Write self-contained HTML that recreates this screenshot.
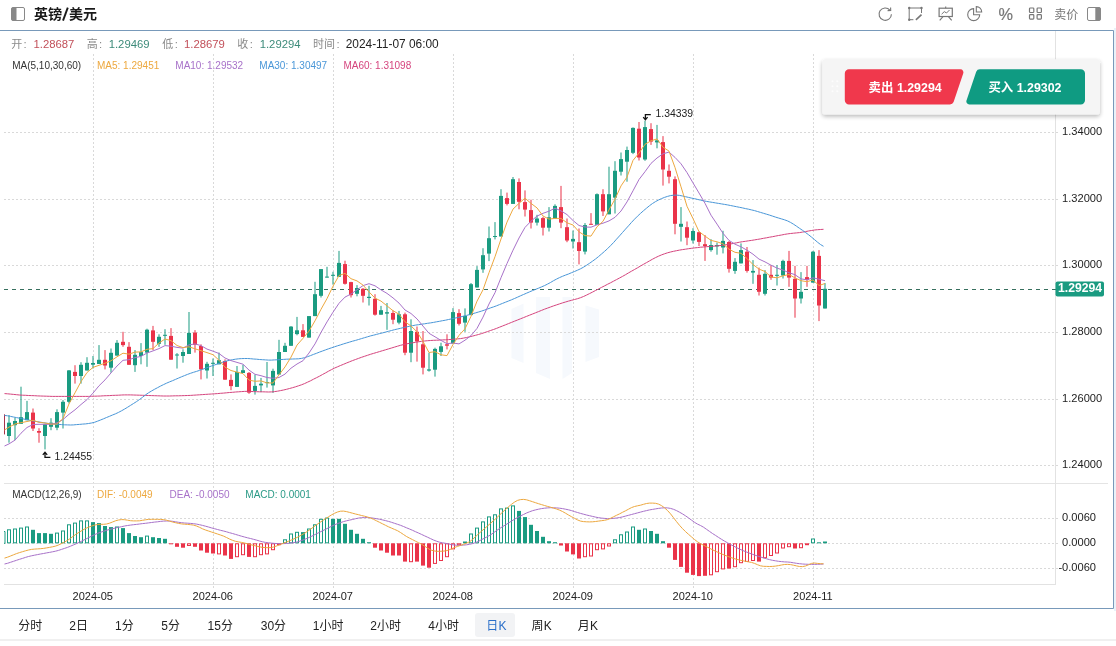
<!DOCTYPE html>
<html><head><meta charset="utf-8"><title>GBP/USD</title>
<style>html,body{margin:0;padding:0;background:#fff;overflow:hidden}body{width:1116px;height:646px;font-family:"Liberation Sans","Noto Sans CJK SC",sans-serif}svg{display:block;will-change:transform}</style></head>
<body>
<svg width="1116" height="646" viewBox="0 0 1116 646" font-family="Liberation Sans, Noto Sans CJK SC, sans-serif">
<rect width="1116" height="646" fill="#fff"/>
<rect x="11.5" y="7.5" width="13" height="13" rx="1.5" fill="#fff" stroke="#888" stroke-width="1"/>
<path d="M12.5 7.5h4v13h-4a1 1 0 0 1-1-1v-11a1 1 0 0 1 1-1z" fill="#888"/>
<text x="34" y="19.4" font-size="14" font-weight="bold" fill="#1a1a1a" font-family="Liberation Sans, Noto Sans CJK SC, sans-serif">英镑</text>
<path d="M63 20.6L67.8 7.6" stroke="#1a1a1a" stroke-width="1.9" fill="none"/>
<text x="68.9" y="19.4" font-size="14" font-weight="bold" fill="#1a1a1a" font-family="Liberation Sans, Noto Sans CJK SC, sans-serif">美元</text>
<path d="M889.9 10.1A6.2 6.2 0 1 0 891.4 14.2" fill="none" stroke="#777" stroke-width="1.1"/>
<path d="M890.6 7.4l0.1 3.1-3.1 0.1" fill="none" stroke="#777" stroke-width="1.1"/>
<path d="M921.5 8v5M909.2 8h12.3M909.2 8v11.7M909.2 19.7h4.2" fill="none" stroke="#777" stroke-width="1"/>
<path d="M915.9 19.9l5.6-5.2" fill="none" stroke="#777" stroke-width="1.6"/>
<circle cx="909.2" cy="8" r="1.2" fill="#777"/>
<circle cx="921.5" cy="8" r="1.2" fill="#777"/>
<circle cx="909.2" cy="19.7" r="1.2" fill="#777"/>
<rect x="939.1" y="8.2" width="13.2" height="8.3" fill="none" stroke="#777" stroke-width="1.2"/>
<path d="M945.7 6.5v1.7M943 16.6l-3.3 3.8M948.4 16.6l3.3 3.8" fill="none" stroke="#777" stroke-width="1.1"/>
<path d="M941.6 14.2l2.7-2.6 2.2 1.4 3-3" fill="none" stroke="#777" stroke-width="1"/>
<path d="M973.6 8.6A6 6 0 1 0 979.7 14.7H973.6z" fill="none" stroke="#777" stroke-width="1.1"/>
<path d="M976.3 6.6A5.4 5.4 0 0 1 981.7 12H976.3z" fill="none" stroke="#777" stroke-width="1.1"/>
<text x="998.4" y="19.7" font-size="16.3" fill="#777" stroke="#777" stroke-width="0.2">%</text>
<rect x="1029.5" y="8.0" width="4.3" height="4.5" rx="0.8" fill="none" stroke="#777" stroke-width="1.2"/>
<rect x="1029.5" y="14.6" width="4.3" height="4.5" rx="0.8" fill="none" stroke="#777" stroke-width="1.2"/>
<rect x="1037.1" y="8.0" width="4.3" height="4.5" rx="0.8" fill="none" stroke="#777" stroke-width="1.2"/>
<rect x="1037.1" y="14.6" width="4.3" height="4.5" rx="0.8" fill="none" stroke="#777" stroke-width="1.2"/>
<text x="1054.3" y="19" font-size="12" fill="#777" font-family="Liberation Sans, Noto Sans CJK SC, sans-serif">卖价</text>
<rect x="1087.5" y="7.5" width="13" height="13" rx="1.5" fill="#fff" stroke="#888" stroke-width="1"/>
<path d="M1095.3 7.5h4.2a1 1 0 0 1 1 1v11a1 1 0 0 1-1 1h-4.2z" fill="#888"/>
<rect x="1114" y="28" width="2" height="583" fill="#e9f2f9"/>
<path d="M0 30.5H1113.5V608.5H0" fill="none" stroke="#7899ba" stroke-width="1"/>
<rect x="0" y="639" width="1116" height="2" fill="#f0f0f0"/>
<path d="M511.5 309l12-5.5V363l-12-5z M536 297l14 0V379l-14-6z M562.5 297l9.5 0V373l-9.5 6z M585.5 305.5l13.5 4V357l-13.5 5z" fill="#f6f9fd"/>
<path d="M4 132.5 H1059" stroke="#d9d9d9" stroke-width="1" stroke-dasharray="2 2" fill="none"/>
<path d="M4 199.5 H1059" stroke="#d9d9d9" stroke-width="1" stroke-dasharray="2 2" fill="none"/>
<path d="M4 265.5 H1059" stroke="#d9d9d9" stroke-width="1" stroke-dasharray="2 2" fill="none"/>
<path d="M4 332.5 H1059" stroke="#d9d9d9" stroke-width="1" stroke-dasharray="2 2" fill="none"/>
<path d="M4 399.5 H1059" stroke="#d9d9d9" stroke-width="1" stroke-dasharray="2 2" fill="none"/>
<path d="M4 465.5 H1059" stroke="#d9d9d9" stroke-width="1" stroke-dasharray="2 2" fill="none"/>
<path d="M4 518.5 H1059" stroke="#d9d9d9" stroke-width="1" stroke-dasharray="2 2" fill="none"/>
<path d="M4 543.5 H1059" stroke="#d9d9d9" stroke-width="1" stroke-dasharray="2 2" fill="none"/>
<path d="M4 568.5 H1059" stroke="#d9d9d9" stroke-width="1" stroke-dasharray="2 2" fill="none"/>
<path d="M93.5 54V588" stroke="#d9d9d9" stroke-width="1" stroke-dasharray="2 2" fill="none"/>
<path d="M213.5 54V588" stroke="#d9d9d9" stroke-width="1" stroke-dasharray="2 2" fill="none"/>
<path d="M333.5 54V588" stroke="#d9d9d9" stroke-width="1" stroke-dasharray="2 2" fill="none"/>
<path d="M453.5 54V588" stroke="#d9d9d9" stroke-width="1" stroke-dasharray="2 2" fill="none"/>
<path d="M573.5 54V588" stroke="#d9d9d9" stroke-width="1" stroke-dasharray="2 2" fill="none"/>
<path d="M693.5 54V588" stroke="#d9d9d9" stroke-width="1" stroke-dasharray="2 2" fill="none"/>
<path d="M813.5 54V588" stroke="#d9d9d9" stroke-width="1" stroke-dasharray="2 2" fill="none"/>
<path d="M4 483.5H1108" stroke="#e4e4e4" stroke-width="1"/>
<path d="M4 584.5H1056" stroke="#e2e2e2" stroke-width="1"/>
<path d="M1055.5 31V584.5" stroke="#e2e2e2" stroke-width="1"/>
<path d="M4 289.5H1056" stroke="#37705f" stroke-width="1" stroke-dasharray="4 4" fill="none"/>
<rect x="4" y="414.3" width="1" height="20.1" fill="#a8324a"/>
<rect x="8.5" y="415.1" width="1" height="27.6" fill="#1a9b81"/>
<rect x="7" y="422.7" width="4" height="13.3" fill="#1a9b81"/>
<rect x="14.5" y="417.7" width="1" height="22.5" fill="#1a9b81"/>
<rect x="13" y="421" width="4" height="4.2" fill="#1a9b81"/>
<rect x="20.5" y="386.7" width="1" height="37.1" fill="#1a9b81"/>
<rect x="19" y="417.2" width="4" height="6.6" fill="#1a9b81"/>
<rect x="26.5" y="400.9" width="1" height="19.3" fill="#1a9b81"/>
<rect x="25" y="412.1" width="4" height="8.1" fill="#1a9b81"/>
<rect x="32.5" y="408.5" width="1" height="22.5" fill="#ea3349"/>
<rect x="31" y="412.6" width="4" height="15.9" fill="#ea3349"/>
<rect x="38.5" y="428.2" width="1" height="14.5" fill="#ea3349"/>
<rect x="37" y="431" width="4" height="1.7" fill="#ea3349"/>
<rect x="44.5" y="424.3" width="1" height="25.1" fill="#1a9b81"/>
<rect x="43" y="424.3" width="4" height="11.7" fill="#1a9b81"/>
<rect x="50.5" y="418.2" width="1" height="12" fill="#1a9b81"/>
<rect x="49" y="422.7" width="4" height="4.1" fill="#1a9b81"/>
<rect x="56.5" y="409.3" width="1" height="20.9" fill="#1a9b81"/>
<rect x="55" y="412.1" width="4" height="15.6" fill="#1a9b81"/>
<rect x="62.5" y="400.1" width="1" height="28.4" fill="#1a9b81"/>
<rect x="61" y="401.8" width="4" height="10.8" fill="#1a9b81"/>
<rect x="68.5" y="370" width="1" height="33.4" fill="#1a9b81"/>
<rect x="67" y="370.4" width="4" height="31.4" fill="#1a9b81"/>
<rect x="74.5" y="365.2" width="1" height="18.4" fill="#ea3349"/>
<rect x="73" y="371.9" width="4" height="4.1" fill="#ea3349"/>
<rect x="80.5" y="362.2" width="1" height="21.4" fill="#1a9b81"/>
<rect x="79" y="364.8" width="4" height="11.2" fill="#1a9b81"/>
<rect x="86.5" y="357.2" width="1" height="13.3" fill="#1a9b81"/>
<rect x="85" y="362.8" width="4" height="7.7" fill="#1a9b81"/>
<rect x="92.5" y="356" width="1" height="12.5" fill="#1a9b81"/>
<rect x="91" y="363" width="4" height="1.7" fill="#1a9b81"/>
<rect x="98.5" y="345.1" width="1" height="18.9" fill="#1a9b81"/>
<rect x="97" y="359.8" width="4" height="4.2" fill="#1a9b81"/>
<rect x="104.5" y="350.1" width="1" height="19.3" fill="#ea3349"/>
<rect x="103" y="359.8" width="4" height="5.7" fill="#ea3349"/>
<rect x="110.5" y="348.5" width="1" height="24.2" fill="#1a9b81"/>
<rect x="109" y="352.8" width="4" height="14.9" fill="#1a9b81"/>
<rect x="116.5" y="340.1" width="1" height="15.5" fill="#1a9b81"/>
<rect x="115" y="342.8" width="4" height="12.8" fill="#1a9b81"/>
<rect x="122.5" y="331.8" width="1" height="15" fill="#ea3349"/>
<rect x="121" y="341.8" width="4" height="3.3" fill="#ea3349"/>
<rect x="128.5" y="342.1" width="1" height="22.7" fill="#ea3349"/>
<rect x="127" y="346.8" width="4" height="18" fill="#ea3349"/>
<rect x="134.5" y="350.1" width="1" height="21.8" fill="#1a9b81"/>
<rect x="133" y="354.8" width="4" height="10.4" fill="#1a9b81"/>
<rect x="140.5" y="343.1" width="1" height="21.2" fill="#1a9b81"/>
<rect x="139" y="352.1" width="4" height="3.9" fill="#1a9b81"/>
<rect x="146.5" y="328.7" width="1" height="38.1" fill="#1a9b81"/>
<rect x="145" y="329.7" width="4" height="22.9" fill="#1a9b81"/>
<rect x="152.5" y="325.9" width="1" height="24.2" fill="#ea3349"/>
<rect x="151" y="330.4" width="4" height="11.4" fill="#ea3349"/>
<rect x="158.5" y="334.3" width="1" height="12.5" fill="#1a9b81"/>
<rect x="157" y="336.8" width="4" height="7" fill="#1a9b81"/>
<rect x="164.5" y="329.2" width="1" height="15.6" fill="#1a9b81"/>
<rect x="163" y="334.8" width="4" height="1" fill="#1a9b81"/>
<rect x="170.5" y="328.1" width="1" height="31.6" fill="#ea3349"/>
<rect x="169" y="335.9" width="4" height="23.8" fill="#ea3349"/>
<rect x="176.5" y="353.1" width="1" height="15.4" fill="#1a9b81"/>
<rect x="175" y="354.5" width="4" height="1" fill="#1a9b81"/>
<rect x="182.5" y="349.3" width="1" height="13.4" fill="#1a9b81"/>
<rect x="181" y="352" width="4" height="4" fill="#1a9b81"/>
<rect x="188.5" y="312" width="1" height="42" fill="#1a9b81"/>
<rect x="187" y="332.9" width="4" height="21.1" fill="#1a9b81"/>
<rect x="194.5" y="330.1" width="1" height="22.5" fill="#ea3349"/>
<rect x="193" y="332.6" width="4" height="12.2" fill="#ea3349"/>
<rect x="200.5" y="344.3" width="1" height="35.1" fill="#ea3349"/>
<rect x="199" y="346" width="4" height="23.4" fill="#ea3349"/>
<rect x="206.5" y="361.8" width="1" height="16.7" fill="#1a9b81"/>
<rect x="205" y="363.8" width="4" height="6.7" fill="#1a9b81"/>
<rect x="212.5" y="358.5" width="1" height="17.5" fill="#1a9b81"/>
<rect x="211" y="362.8" width="4" height="1" fill="#1a9b81"/>
<rect x="218.5" y="352.6" width="1" height="11.7" fill="#1a9b81"/>
<rect x="217" y="360.2" width="4" height="4.1" fill="#1a9b81"/>
<rect x="224.5" y="359.3" width="1" height="20.4" fill="#ea3349"/>
<rect x="223" y="361" width="4" height="18.7" fill="#ea3349"/>
<rect x="230.5" y="374.4" width="1" height="15.8" fill="#ea3349"/>
<rect x="229" y="379.9" width="4" height="6.2" fill="#ea3349"/>
<rect x="236.5" y="366" width="1" height="20.9" fill="#1a9b81"/>
<rect x="235" y="371.9" width="4" height="15" fill="#1a9b81"/>
<rect x="242.5" y="364.8" width="1" height="8.2" fill="#1a9b81"/>
<rect x="241" y="370.2" width="4" height="2.8" fill="#1a9b81"/>
<rect x="248.5" y="372" width="1" height="21.8" fill="#ea3349"/>
<rect x="247" y="372.9" width="4" height="19.7" fill="#ea3349"/>
<rect x="254.5" y="374.5" width="1" height="20.1" fill="#1a9b81"/>
<rect x="253" y="385.9" width="4" height="5" fill="#1a9b81"/>
<rect x="260.5" y="377.9" width="1" height="14.2" fill="#1a9b81"/>
<rect x="259" y="383.7" width="4" height="1.7" fill="#1a9b81"/>
<rect x="266.5" y="362" width="1" height="25.6" fill="#1a9b81"/>
<rect x="265" y="382.1" width="4" height="1" fill="#1a9b81"/>
<rect x="272.5" y="368.7" width="1" height="24.2" fill="#1a9b81"/>
<rect x="271" y="370.9" width="4" height="14.5" fill="#1a9b81"/>
<rect x="278.5" y="339.8" width="1" height="34.7" fill="#1a9b81"/>
<rect x="277" y="352" width="4" height="22.5" fill="#1a9b81"/>
<rect x="284.5" y="342.8" width="1" height="9.2" fill="#1a9b81"/>
<rect x="283" y="345.8" width="4" height="6.2" fill="#1a9b81"/>
<rect x="290.5" y="326.1" width="1" height="19.7" fill="#1a9b81"/>
<rect x="289" y="326.6" width="4" height="19.2" fill="#1a9b81"/>
<rect x="296.5" y="316.9" width="1" height="18.4" fill="#1a9b81"/>
<rect x="295" y="330.3" width="4" height="3.8" fill="#1a9b81"/>
<rect x="302.5" y="324.1" width="1" height="12.8" fill="#ea3349"/>
<rect x="301" y="330.3" width="4" height="6.6" fill="#ea3349"/>
<rect x="308.5" y="316.1" width="1" height="21.5" fill="#1a9b81"/>
<rect x="307" y="316.1" width="4" height="21.5" fill="#1a9b81"/>
<rect x="314.5" y="281.8" width="1" height="34.3" fill="#1a9b81"/>
<rect x="313" y="294.2" width="4" height="21.9" fill="#1a9b81"/>
<rect x="320.5" y="269.1" width="1" height="28.4" fill="#1a9b81"/>
<rect x="319" y="269.1" width="4" height="26.7" fill="#1a9b81"/>
<rect x="326.5" y="266.8" width="1" height="10.8" fill="#1a9b81"/>
<rect x="325" y="276.6" width="4" height="1" fill="#1a9b81"/>
<rect x="332.5" y="271.8" width="1" height="12.8" fill="#1a9b81"/>
<rect x="331" y="274.8" width="4" height="1" fill="#1a9b81"/>
<rect x="338.5" y="250.9" width="1" height="25.9" fill="#1a9b81"/>
<rect x="337" y="262.9" width="4" height="13.9" fill="#1a9b81"/>
<rect x="344.5" y="260.7" width="1" height="23.9" fill="#ea3349"/>
<rect x="343" y="264.1" width="4" height="19.7" fill="#ea3349"/>
<rect x="350.5" y="281.8" width="1" height="15.7" fill="#ea3349"/>
<rect x="349" y="282.1" width="4" height="13.1" fill="#ea3349"/>
<rect x="356.5" y="285.1" width="1" height="11.2" fill="#1a9b81"/>
<rect x="355" y="288" width="4" height="5.8" fill="#1a9b81"/>
<rect x="362.5" y="288" width="1" height="14.5" fill="#ea3349"/>
<rect x="361" y="288.8" width="4" height="7" fill="#ea3349"/>
<rect x="368.5" y="285.8" width="1" height="19.7" fill="#1a9b81"/>
<rect x="367" y="296.8" width="4" height="1.2" fill="#1a9b81"/>
<rect x="374.5" y="294.2" width="1" height="21.4" fill="#ea3349"/>
<rect x="373" y="298.8" width="4" height="15.9" fill="#ea3349"/>
<rect x="380.5" y="305.9" width="1" height="8.8" fill="#1a9b81"/>
<rect x="379" y="310.2" width="4" height="4.5" fill="#1a9b81"/>
<rect x="386.5" y="303" width="1" height="26.8" fill="#1a9b81"/>
<rect x="385" y="312.2" width="4" height="1.4" fill="#1a9b81"/>
<rect x="392.5" y="310.5" width="1" height="13.7" fill="#ea3349"/>
<rect x="391" y="313" width="4" height="6.7" fill="#ea3349"/>
<rect x="398.5" y="310.9" width="1" height="13.4" fill="#1a9b81"/>
<rect x="397" y="314.3" width="4" height="8.3" fill="#1a9b81"/>
<rect x="404.5" y="312.6" width="1" height="42.6" fill="#ea3349"/>
<rect x="403" y="314.3" width="4" height="38.4" fill="#ea3349"/>
<rect x="410.5" y="319.3" width="1" height="42.9" fill="#1a9b81"/>
<rect x="409" y="331" width="4" height="21.7" fill="#1a9b81"/>
<rect x="416.5" y="326.5" width="1" height="35.1" fill="#ea3349"/>
<rect x="415" y="331.8" width="4" height="9.7" fill="#ea3349"/>
<rect x="422.5" y="331" width="1" height="43.4" fill="#ea3349"/>
<rect x="421" y="344.3" width="4" height="23.4" fill="#ea3349"/>
<rect x="428.5" y="352.7" width="1" height="18.9" fill="#1a9b81"/>
<rect x="427" y="369.4" width="4" height="1.2" fill="#1a9b81"/>
<rect x="434.5" y="347.7" width="1" height="28.9" fill="#1a9b81"/>
<rect x="433" y="348.9" width="4" height="20.8" fill="#1a9b81"/>
<rect x="440.5" y="342.7" width="1" height="13.3" fill="#1a9b81"/>
<rect x="439" y="346.3" width="4" height="5.6" fill="#1a9b81"/>
<rect x="446.5" y="334.3" width="1" height="15.1" fill="#ea3349"/>
<rect x="445" y="344.3" width="4" height="1.4" fill="#ea3349"/>
<rect x="452.5" y="308.1" width="1" height="35.4" fill="#1a9b81"/>
<rect x="451" y="312.1" width="4" height="31.4" fill="#1a9b81"/>
<rect x="458.5" y="309.2" width="1" height="16.3" fill="#ea3349"/>
<rect x="457" y="313.1" width="4" height="10.7" fill="#ea3349"/>
<rect x="464.5" y="308.4" width="1" height="23.4" fill="#1a9b81"/>
<rect x="463" y="315.9" width="4" height="6.7" fill="#1a9b81"/>
<rect x="470.5" y="283" width="1" height="32.1" fill="#1a9b81"/>
<rect x="469" y="284.2" width="4" height="30.9" fill="#1a9b81"/>
<rect x="476.5" y="266.1" width="1" height="21.4" fill="#1a9b81"/>
<rect x="475" y="269.9" width="4" height="17.6" fill="#1a9b81"/>
<rect x="482.5" y="248.2" width="1" height="24.6" fill="#1a9b81"/>
<rect x="481" y="255.2" width="4" height="14.2" fill="#1a9b81"/>
<rect x="488.5" y="226.5" width="1" height="34.6" fill="#1a9b81"/>
<rect x="487" y="238.2" width="4" height="15.4" fill="#1a9b81"/>
<rect x="494.5" y="222.1" width="1" height="17.3" fill="#1a9b81"/>
<rect x="493" y="236" width="4" height="1" fill="#1a9b81"/>
<rect x="500.5" y="189.2" width="1" height="47.3" fill="#1a9b81"/>
<rect x="499" y="195.9" width="4" height="40.6" fill="#1a9b81"/>
<rect x="506.5" y="192.6" width="1" height="12.8" fill="#ea3349"/>
<rect x="505" y="198.1" width="4" height="5.8" fill="#ea3349"/>
<rect x="512.5" y="177" width="1" height="26.9" fill="#1a9b81"/>
<rect x="511" y="179.2" width="4" height="24.7" fill="#1a9b81"/>
<rect x="518.5" y="178.4" width="1" height="30.9" fill="#ea3349"/>
<rect x="517" y="182" width="4" height="19.8" fill="#ea3349"/>
<rect x="524.5" y="190.4" width="1" height="26.1" fill="#ea3349"/>
<rect x="523" y="202.1" width="4" height="7.5" fill="#ea3349"/>
<rect x="530.5" y="199.7" width="1" height="28.8" fill="#ea3349"/>
<rect x="529" y="210.1" width="4" height="12.5" fill="#ea3349"/>
<rect x="536.5" y="214.8" width="1" height="10.7" fill="#1a9b81"/>
<rect x="535" y="218.5" width="4" height="4.1" fill="#1a9b81"/>
<rect x="542.5" y="216.8" width="1" height="18.7" fill="#ea3349"/>
<rect x="541" y="218.1" width="4" height="9.6" fill="#ea3349"/>
<rect x="548.5" y="207.1" width="1" height="24.4" fill="#1a9b81"/>
<rect x="547" y="217.3" width="4" height="10.4" fill="#1a9b81"/>
<rect x="554.5" y="204.3" width="1" height="14.5" fill="#1a9b81"/>
<rect x="553" y="205.9" width="4" height="12.9" fill="#1a9b81"/>
<rect x="560.5" y="185.9" width="1" height="42.3" fill="#ea3349"/>
<rect x="559" y="207.1" width="4" height="15.5" fill="#ea3349"/>
<rect x="566.5" y="218.5" width="1" height="23.7" fill="#ea3349"/>
<rect x="565" y="227.2" width="4" height="13.3" fill="#ea3349"/>
<rect x="572.5" y="230.5" width="1" height="18" fill="#1a9b81"/>
<rect x="571" y="238.9" width="4" height="2.6" fill="#1a9b81"/>
<rect x="578.5" y="228.5" width="1" height="35.9" fill="#ea3349"/>
<rect x="577" y="242.2" width="4" height="8.8" fill="#ea3349"/>
<rect x="584.5" y="223.1" width="1" height="31.3" fill="#1a9b81"/>
<rect x="583" y="225.1" width="4" height="26.5" fill="#1a9b81"/>
<rect x="590.5" y="213.1" width="1" height="11.7" fill="#ea3349"/>
<rect x="589" y="223.8" width="4" height="1" fill="#ea3349"/>
<rect x="596.5" y="193.4" width="1" height="31.4" fill="#1a9b81"/>
<rect x="595" y="194.2" width="4" height="30.6" fill="#1a9b81"/>
<rect x="602.5" y="189.2" width="1" height="26.8" fill="#ea3349"/>
<rect x="601" y="194.2" width="4" height="17.2" fill="#ea3349"/>
<rect x="608.5" y="166.7" width="1" height="47.6" fill="#1a9b81"/>
<rect x="607" y="194.2" width="4" height="20.1" fill="#1a9b81"/>
<rect x="614.5" y="161.2" width="1" height="52.3" fill="#1a9b81"/>
<rect x="613" y="170.8" width="4" height="26.8" fill="#1a9b81"/>
<rect x="620.5" y="152.5" width="1" height="23" fill="#1a9b81"/>
<rect x="619" y="159.1" width="4" height="12.6" fill="#1a9b81"/>
<rect x="626.5" y="146.6" width="1" height="35.1" fill="#1a9b81"/>
<rect x="625" y="150" width="4" height="11.7" fill="#1a9b81"/>
<rect x="632.5" y="127.4" width="1" height="26.7" fill="#1a9b81"/>
<rect x="631" y="127.9" width="4" height="24.9" fill="#1a9b81"/>
<rect x="638.5" y="122" width="1" height="38.5" fill="#ea3349"/>
<rect x="637" y="128.7" width="4" height="28.8" fill="#ea3349"/>
<rect x="644.5" y="120.7" width="1" height="40.1" fill="#1a9b81"/>
<rect x="643" y="127.1" width="4" height="32.4" fill="#1a9b81"/>
<rect x="650.5" y="123.2" width="1" height="21.7" fill="#ea3349"/>
<rect x="649" y="129.1" width="4" height="12.5" fill="#ea3349"/>
<rect x="656.5" y="124.9" width="1" height="23.4" fill="#1a9b81"/>
<rect x="655" y="140.4" width="4" height="2" fill="#1a9b81"/>
<rect x="662.5" y="136.1" width="1" height="49.5" fill="#ea3349"/>
<rect x="661" y="142.1" width="4" height="27.4" fill="#ea3349"/>
<rect x="668.5" y="164.5" width="1" height="18.9" fill="#ea3349"/>
<rect x="667" y="170.8" width="4" height="5.9" fill="#ea3349"/>
<rect x="674.5" y="176.4" width="1" height="57.9" fill="#ea3349"/>
<rect x="673" y="179.2" width="4" height="44.6" fill="#ea3349"/>
<rect x="680.5" y="207.1" width="1" height="34.4" fill="#1a9b81"/>
<rect x="679" y="223.8" width="4" height="3" fill="#1a9b81"/>
<rect x="686.5" y="221.5" width="1" height="23.7" fill="#ea3349"/>
<rect x="685" y="227.2" width="4" height="10.5" fill="#ea3349"/>
<rect x="692.5" y="228.2" width="1" height="15.3" fill="#1a9b81"/>
<rect x="691" y="231" width="4" height="9.5" fill="#1a9b81"/>
<rect x="698.5" y="231.5" width="1" height="14.5" fill="#ea3349"/>
<rect x="697" y="232.2" width="4" height="9.7" fill="#ea3349"/>
<rect x="704.5" y="235" width="1" height="25.9" fill="#ea3349"/>
<rect x="703" y="244.2" width="4" height="2" fill="#ea3349"/>
<rect x="710.5" y="239.2" width="1" height="12.5" fill="#1a9b81"/>
<rect x="709" y="245" width="4" height="5.1" fill="#1a9b81"/>
<rect x="716.5" y="242.5" width="1" height="12.2" fill="#1a9b81"/>
<rect x="715" y="245" width="4" height="1.4" fill="#1a9b81"/>
<rect x="722.5" y="230.8" width="1" height="22.6" fill="#1a9b81"/>
<rect x="721" y="240.9" width="4" height="6.6" fill="#1a9b81"/>
<rect x="728.5" y="240.9" width="1" height="31.7" fill="#ea3349"/>
<rect x="727" y="242" width="4" height="26.8" fill="#ea3349"/>
<rect x="734.5" y="258.1" width="1" height="15.7" fill="#1a9b81"/>
<rect x="733" y="261.8" width="4" height="9.1" fill="#1a9b81"/>
<rect x="740.5" y="243.4" width="1" height="20" fill="#1a9b81"/>
<rect x="739" y="250.1" width="4" height="13.3" fill="#1a9b81"/>
<rect x="746.5" y="247" width="1" height="25.6" fill="#ea3349"/>
<rect x="745" y="251.7" width="4" height="19.2" fill="#ea3349"/>
<rect x="752.5" y="260.1" width="1" height="23.7" fill="#1a9b81"/>
<rect x="751" y="270.9" width="4" height="1.7" fill="#1a9b81"/>
<rect x="758.5" y="267.6" width="1" height="27.9" fill="#ea3349"/>
<rect x="757" y="274.8" width="4" height="17" fill="#ea3349"/>
<rect x="764.5" y="270.1" width="1" height="25.4" fill="#1a9b81"/>
<rect x="763" y="273.8" width="4" height="20" fill="#1a9b81"/>
<rect x="770.5" y="265.1" width="1" height="14.7" fill="#ea3349"/>
<rect x="769" y="274.8" width="4" height="2.8" fill="#ea3349"/>
<rect x="776.5" y="265.1" width="1" height="20.4" fill="#1a9b81"/>
<rect x="775" y="274.8" width="4" height="1" fill="#1a9b81"/>
<rect x="782.5" y="259.7" width="1" height="18.8" fill="#1a9b81"/>
<rect x="781" y="260.9" width="4" height="14.6" fill="#1a9b81"/>
<rect x="788.5" y="250.9" width="1" height="35.9" fill="#ea3349"/>
<rect x="787" y="260.9" width="4" height="16.7" fill="#ea3349"/>
<rect x="794.5" y="265.9" width="1" height="51.8" fill="#ea3349"/>
<rect x="793" y="278.8" width="4" height="19.7" fill="#ea3349"/>
<rect x="800.5" y="272.1" width="1" height="31.4" fill="#1a9b81"/>
<rect x="799" y="291.8" width="4" height="6.7" fill="#1a9b81"/>
<rect x="806.5" y="265.9" width="1" height="20.9" fill="#ea3349"/>
<rect x="805" y="277.1" width="4" height="2.7" fill="#ea3349"/>
<rect x="812.5" y="250.9" width="1" height="31.7" fill="#1a9b81"/>
<rect x="811" y="251.7" width="4" height="30.9" fill="#1a9b81"/>
<rect x="818.5" y="250.1" width="1" height="71" fill="#ea3349"/>
<rect x="817" y="255.9" width="4" height="49.6" fill="#ea3349"/>
<rect x="824.5" y="283.1" width="1" height="25.4" fill="#1a9b81"/>
<rect x="823" y="288.8" width="4" height="19.7" fill="#1a9b81"/>
<path d="M4.5 393.6 L7.5 393.8 L10.5 394.1 L13.5 394.4 L16.5 394.7 L19.5 395 L22.5 395.2 L25.5 395.3 L28.5 395.5 L31.5 395.6 L34.5 395.7 L37.5 395.9 L40.5 396 L43.5 396.1 L46.5 396.2 L49.5 396.3 L52.5 396.4 L55.5 396.4 L58.5 396.4 L61.5 396.4 L64.5 396.4 L67.5 396.4 L70.5 396.4 L73.5 396.4 L76.5 396.4 L79.5 396.4 L82.5 396.4 L85.5 396.4 L88.5 396.4 L91.5 396.3 L94.5 396.2 L97.5 396.1 L100.5 396 L103.5 395.8 L106.5 395.7 L109.5 395.6 L112.5 395.4 L115.5 395.3 L118.5 395.2 L121.5 395 L124.5 394.9 L127.5 394.9 L130.5 394.9 L133.5 395 L136.5 395.1 L139.5 395.2 L142.5 395.3 L145.5 395.4 L148.5 395.5 L151.5 395.6 L154.5 395.7 L157.5 395.8 L160.5 395.9 L163.5 396 L166.5 396 L169.5 396 L172.5 395.9 L175.5 395.8 L178.5 395.8 L181.5 395.7 L184.5 395.6 L187.5 395.5 L190.5 395.4 L193.5 395.2 L196.5 395 L199.5 394.8 L202.5 394.6 L205.5 394.4 L208.5 394.2 L211.5 394 L214.5 393.8 L217.5 393.6 L220.5 393.3 L223.5 393.1 L226.5 392.8 L229.5 392.5 L232.5 392.3 L235.5 392 L238.5 391.8 L241.5 391.6 L244.5 391.4 L247.5 391.3 L250.5 391.4 L253.5 391.6 L256.5 391.7 L259.5 391.8 L262.5 391.8 L265.5 391.9 L268.5 392 L271.5 391.9 L274.5 391.6 L277.5 391.2 L280.5 390.6 L283.5 390 L286.5 389.3 L289.5 388.5 L292.5 387.7 L295.5 386.8 L298.5 385.8 L301.5 384.8 L304.5 383.6 L307.5 382.2 L310.5 380.8 L313.5 379.2 L316.5 377.7 L319.5 376.2 L322.5 374.5 L325.5 372.9 L328.5 371.2 L331.5 369.6 L334.5 368.1 L337.5 366.8 L340.5 365.5 L343.5 364.3 L346.5 363 L349.5 361.8 L352.5 360.6 L355.5 359.5 L358.5 358.4 L361.5 357.3 L364.5 356.3 L367.5 355.3 L370.5 354.3 L373.5 353.4 L376.5 352.5 L379.5 351.6 L382.5 350.7 L385.5 349.8 L388.5 348.9 L391.5 348 L394.5 347.1 L397.5 346.2 L400.5 345.3 L403.5 344.6 L406.5 343.9 L409.5 343.3 L412.5 342.8 L415.5 342.3 L418.5 341.8 L421.5 341.3 L424.5 341 L427.5 340.7 L430.5 340.5 L433.5 340.3 L436.5 340.2 L439.5 340.1 L442.5 339.9 L445.5 339.8 L448.5 339.6 L451.5 339.4 L454.5 339.1 L457.5 338.9 L460.5 338.6 L463.5 338.1 L466.5 337.5 L469.5 336.8 L472.5 336.1 L475.5 335.3 L478.5 334.5 L481.5 333.6 L484.5 332.6 L487.5 331.6 L490.5 330.5 L493.5 329.5 L496.5 328.4 L499.5 327.2 L502.5 326 L505.5 324.8 L508.5 323.6 L511.5 322.4 L514.5 321.2 L517.5 320 L520.5 318.8 L523.5 317.6 L526.5 316.4 L529.5 315.2 L532.5 314 L535.5 312.8 L538.5 311.6 L541.5 310.4 L544.5 309.2 L547.5 308.1 L550.5 307 L553.5 305.9 L556.5 304.9 L559.5 303.9 L562.5 302.9 L565.5 302 L568.5 301.1 L571.5 300.3 L574.5 299.5 L577.5 298.7 L580.5 297.7 L583.5 296.5 L586.5 295.1 L589.5 293.6 L592.5 292.1 L595.5 290.5 L598.5 289 L601.5 287.4 L604.5 285.9 L607.5 284.3 L610.5 282.8 L613.5 281.2 L616.5 279.6 L619.5 278 L622.5 276.4 L625.5 274.7 L628.5 272.9 L631.5 271.2 L634.5 269.5 L637.5 267.8 L640.5 266 L643.5 264.3 L646.5 262.6 L649.5 260.9 L652.5 259.2 L655.5 257.6 L658.5 256.2 L661.5 254.9 L664.5 253.8 L667.5 252.8 L670.5 252 L673.5 251.3 L676.5 250.7 L679.5 250.1 L682.5 249.6 L685.5 249.2 L688.5 248.7 L691.5 248.3 L694.5 247.9 L697.5 247.6 L700.5 247.2 L703.5 247 L706.5 246.7 L709.5 246.5 L712.5 246.3 L715.5 246 L718.5 245.7 L721.5 245.4 L724.5 245 L727.5 244.5 L730.5 244 L733.5 243.4 L736.5 242.8 L739.5 242.2 L742.5 241.7 L745.5 241.3 L748.5 240.8 L751.5 240.4 L754.5 239.9 L757.5 239.4 L760.5 238.9 L763.5 238.3 L766.5 237.8 L769.5 237.2 L772.5 236.7 L775.5 236.1 L778.5 235.5 L781.5 235 L784.5 234.4 L787.5 233.9 L790.5 233.5 L793.5 233.2 L796.5 232.9 L799.5 232.6 L802.5 232.1 L805.5 231.6 L808.5 231 L811.5 230.5 L814.5 230 L817.5 229.7 L820.5 229.5 L823.5 229.3" fill="none" stroke="#d5457e" stroke-width="1.0" stroke-linejoin="round"/>
<path d="M4.5 415.4 L7.5 415.8 L10.5 416.4 L13.5 417 L16.5 417.6 L19.5 418.2 L22.5 418.8 L25.5 419.4 L28.5 420 L31.5 420.6 L34.5 421.2 L37.5 421.7 L40.5 422.2 L43.5 422.7 L46.5 423.2 L49.5 423.6 L52.5 423.9 L55.5 424.2 L58.5 424.4 L61.5 424.6 L64.5 424.8 L67.5 424.9 L70.5 425 L73.5 424.9 L76.5 424.6 L79.5 424.4 L82.5 424.1 L85.5 423.9 L88.5 423.5 L91.5 423 L94.5 422.3 L97.5 421.2 L100.5 420 L103.5 418.8 L106.5 417.5 L109.5 416.3 L112.5 415 L115.5 413.8 L118.5 412.4 L121.5 410.8 L124.5 409.1 L127.5 407.3 L130.5 405.4 L133.5 403.5 L136.5 401.6 L139.5 399.5 L142.5 397.3 L145.5 394.9 L148.5 392.8 L151.5 391 L154.5 389.3 L157.5 387.7 L160.5 386.1 L163.5 384.6 L166.5 383.2 L169.5 381.9 L172.5 380.7 L175.5 379.4 L178.5 378.1 L181.5 376.8 L184.5 375.6 L187.5 374.4 L190.5 373.3 L193.5 372.3 L196.5 371.4 L199.5 370.4 L202.5 369.3 L205.5 368.3 L208.5 367.1 L211.5 366 L214.5 365 L217.5 363.9 L220.5 362.9 L223.5 361.9 L226.5 361 L229.5 360.3 L232.5 359.7 L235.5 359.2 L238.5 358.8 L241.5 358.6 L244.5 358.5 L247.5 358.5 L250.5 358.7 L253.5 359 L256.5 359.2 L259.5 359.5 L262.5 359.7 L265.5 359.9 L268.5 360.1 L271.5 360.1 L274.5 359.9 L277.5 359.8 L280.5 359.6 L283.5 359.4 L286.5 359.2 L289.5 359.1 L292.5 359 L295.5 358.9 L298.5 358.8 L301.5 358.4 L304.5 357.7 L307.5 356.7 L310.5 355.6 L313.5 354.4 L316.5 353.3 L319.5 352.1 L322.5 351 L325.5 349.9 L328.5 348.8 L331.5 347.8 L334.5 346.8 L337.5 345.8 L340.5 344.9 L343.5 343.9 L346.5 343 L349.5 342.1 L352.5 341.2 L355.5 340.4 L358.5 339.5 L361.5 338.6 L364.5 337.7 L367.5 336.8 L370.5 335.9 L373.5 335.2 L376.5 334.4 L379.5 333.6 L382.5 332.9 L385.5 332.1 L388.5 331.3 L391.5 330.5 L394.5 329.7 L397.5 329 L400.5 328.3 L403.5 327.6 L406.5 326.9 L409.5 326.3 L412.5 325.7 L415.5 325.1 L418.5 324.7 L421.5 324.2 L424.5 323.8 L427.5 323.3 L430.5 322.9 L433.5 322.4 L436.5 321.8 L439.5 321.3 L442.5 320.7 L445.5 320.2 L448.5 319.5 L451.5 318.9 L454.5 318.2 L457.5 317.6 L460.5 316.9 L463.5 316.2 L466.5 315.4 L469.5 314.6 L472.5 313.7 L475.5 312.9 L478.5 312 L481.5 311.1 L484.5 310.1 L487.5 309 L490.5 307.9 L493.5 306.9 L496.5 305.8 L499.5 304.6 L502.5 303.4 L505.5 302.2 L508.5 301 L511.5 299.8 L514.5 298.5 L517.5 297.2 L520.5 295.8 L523.5 294.5 L526.5 293.2 L529.5 291.9 L532.5 290.6 L535.5 289.4 L538.5 288.2 L541.5 286.9 L544.5 285.6 L547.5 284.1 L550.5 282.5 L553.5 280.7 L556.5 279.1 L559.5 277.6 L562.5 276.3 L565.5 275.1 L568.5 274 L571.5 272.7 L574.5 271.5 L577.5 270.2 L580.5 268.8 L583.5 267.2 L586.5 265.3 L589.5 263.3 L592.5 261.2 L595.5 259 L598.5 256.6 L601.5 254 L604.5 251.4 L607.5 248.7 L610.5 245.7 L613.5 242.6 L616.5 239.2 L619.5 235.9 L622.5 232.5 L625.5 229.1 L628.5 225.8 L631.5 222.4 L634.5 219.2 L637.5 216.2 L640.5 213.4 L643.5 210.7 L646.5 208.2 L649.5 205.7 L652.5 203.5 L655.5 201.6 L658.5 200 L661.5 198.6 L664.5 197.4 L667.5 196.4 L670.5 195.6 L673.5 195.2 L676.5 195.1 L679.5 195.4 L682.5 196 L685.5 196.7 L688.5 197.4 L691.5 198.1 L694.5 198.7 L697.5 199.4 L700.5 200.1 L703.5 200.8 L706.5 201.4 L709.5 201.9 L712.5 202.4 L715.5 202.9 L718.5 203.4 L721.5 203.9 L724.5 204.4 L727.5 204.9 L730.5 205.5 L733.5 206.1 L736.5 206.7 L739.5 207.3 L742.5 207.9 L745.5 208.6 L748.5 209.2 L751.5 209.9 L754.5 210.6 L757.5 211.5 L760.5 212.4 L763.5 213.3 L766.5 214.2 L769.5 215.1 L772.5 216.1 L775.5 217.1 L778.5 218 L781.5 218.9 L784.5 219.8 L787.5 220.9 L790.5 222.4 L793.5 224.2 L796.5 226.2 L799.5 228.3 L802.5 230.3 L805.5 232.5 L808.5 234.7 L811.5 237.1 L814.5 239.6 L817.5 242.2 L820.5 244.5 L823.5 246.3" fill="none" stroke="#4a97d8" stroke-width="1.0" stroke-linejoin="round"/>
<path d="M4.5 446 L9 443.9 L15 440.1 L21 433.2 L27 427.5 L33 424.5 L39 424.3 L45 424.3 L51 424.3 L57 422.8 L63 419.5 L69 414.3 L75 409.8 L81 404.5 L87 399.6 L93 393.1 L99 385.8 L105 379.9 L111 372.9 L117 366 L123 360.3 L129 359.7 L135 357.6 L141 356.4 L147 353 L153 350.9 L159 348.6 L165 345.6 L171 346.2 L177 347.4 L183 348.1 L189 344.9 L195 343.9 L201 345.6 L207 349.1 L213 351.2 L219 353.5 L225 358 L231 360.6 L237 362.4 L243 364.2 L249 370.1 L255 374.3 L261 375.7 L267 377.5 L273 378.3 L279 377.5 L285 374.1 L291 368.2 L297 364 L303 360.7 L309 353 L315 343.9 L321 332.4 L327 321.9 L333 312.2 L339 303.3 L345 297.1 L351 294 L357 289.8 L363 285.6 L369 283.7 L375 285.8 L381 289.9 L387 293.4 L393 297.9 L399 303.1 L405 310 L411 313.5 L417 318.9 L423 326.1 L429 333.3 L435 336.8 L441 340.4 L447 343.7 L453 343 L459 343.9 L465 340.2 L471 335.6 L477 328.4 L483 317.1 L489 304 L495 292.7 L501 277.7 L507 263.5 L513 250.2 L519 238 L525 227.4 L531 221.2 L537 216.1 L543 213.3 L549 211.2 L555 208.2 L561 210.9 L567 214.6 L573 220.5 L579 225.5 L585 227 L591 227.2 L597 224.8 L603 223.2 L609 220.9 L615 217.3 L621 211 L627 201.9 L633 190.8 L639 179.5 L645 171.7 L651 163.4 L657 158 L663 153.8 L669 152.1 L675 157.4 L681 163.8 L687 172.6 L693 182.9 L699 193 L705 203.3 L711 215.2 L717 224.1 L723 233.3 L729 240.4 L735 244.2 L741 246.8 L747 250.2 L753 254.2 L759 259.1 L765 261.9 L771 265.2 L777 268.1 L783 270.1 L789 272.7 L795 274.7 L801 278.9 L807 279.8 L813 277.8 L819 279.2 L825 280.7" fill="none" stroke="#a872c9" stroke-width="1.0" stroke-linejoin="round"/>
<path d="M4.5 430 L9 427.1 L15 424 L21 422.7 L27 421.5 L33 420.3 L39 422.3 L45 423 L51 424.1 L57 424.1 L63 418.7 L69 403.9 L75 392.8 L81 381.6 L87 372.5 L93 367.4 L99 365.3 L105 363.2 L111 360.8 L117 356.8 L123 353.2 L129 354.2 L135 352.1 L141 351.9 L147 349.3 L153 348.6 L159 343 L165 339 L171 340.6 L177 345.5 L183 347.6 L189 346.8 L195 348.8 L201 350.7 L207 352.6 L213 354.7 L219 360.2 L225 367.2 L231 370.5 L237 372.1 L243 373.6 L249 380.1 L255 381.3 L261 380.9 L267 382.9 L273 383 L279 374.9 L285 366.9 L291 357.1 L297 345.1 L303 338.3 L309 331.1 L315 320.8 L321 309.3 L327 298.6 L333 286.2 L339 275.5 L345 273.4 L351 278.7 L357 280.9 L363 285.1 L369 291.9 L375 298.1 L381 301.1 L387 305.9 L393 310.7 L399 314.2 L405 321.8 L411 326 L417 331.8 L423 341.4 L429 352.5 L435 351.7 L441 354.8 L447 355.6 L453 344.5 L459 335.4 L465 328.8 L471 316.3 L477 301.2 L483 289.8 L489 272.7 L495 256.7 L501 239 L507 222.1 L513 209.1 L519 203.4 L525 198.1 L531 203.4 L537 207.9 L543 216 L549 219.1 L555 218.4 L561 218.4 L567 222.8 L573 225 L579 231.8 L585 235.6 L591 236.1 L597 226.8 L603 221.3 L609 209.9 L615 199.1 L621 185.9 L627 177.1 L633 160.4 L639 153.1 L645 144.3 L651 140.8 L657 138.9 L663 147.2 L669 151.1 L675 167.5 L681 186.8 L687 206.3 L693 218.6 L699 231.6 L705 236.1 L711 240.4 L717 241.8 L723 243.8 L729 249.2 L735 252.3 L741 253.3 L747 258.5 L753 264.5 L759 269.1 L765 271.5 L771 277 L777 277.8 L783 275.8 L789 274.5 L795 277.9 L801 280.7 L807 281.7 L813 279.9 L819 285.5 L825 283.5" fill="none" stroke="#eda83f" stroke-width="1.0" stroke-linejoin="round"/>
<rect x="1055.5" y="281.5" width="48.5" height="15" rx="2" fill="#1a9b81"/>
<text x="1058" y="291.9" font-size="12.2" fill="#fff" font-weight="bold" >1.29294</text>
<path d="M650.8 114.6H645.4V119.6M643.2 117.2l2.2 2.6 2.2-2.6" fill="none" stroke="#111" stroke-width="1.3"/>
<text x="655.5" y="116.9" font-size="10.4" fill="#222" >1.34339</text>
<path d="M50.4 457.4H45V452.4M42.8 454.8l2.2-2.6 2.2 2.6" fill="none" stroke="#111" stroke-width="1.3"/>
<text x="54.6" y="459.8" font-size="10.4" fill="#222" >1.24455</text>
<path d="M4 531.5H5V543.3H4" fill="none" stroke="#1a9b81" stroke-width="1"/>
<rect x="7.5" y="529.8" width="3" height="13" fill="#fff" stroke="#1a9b81" stroke-width="1"/>
<rect x="13.5" y="529" width="3" height="13.8" fill="#fff" stroke="#1a9b81" stroke-width="1"/>
<rect x="19.5" y="528.1" width="3" height="14.7" fill="#fff" stroke="#1a9b81" stroke-width="1"/>
<rect x="25.5" y="527" width="3" height="15.8" fill="#fff" stroke="#1a9b81" stroke-width="1"/>
<rect x="31" y="529.8" width="4" height="13.5" fill="#1a9b81"/>
<rect x="37" y="533.1" width="4" height="10.2" fill="#1a9b81"/>
<rect x="43" y="533.1" width="4" height="10.2" fill="#1a9b81"/>
<rect x="49" y="533.8" width="4" height="9.5" fill="#1a9b81"/>
<rect x="55.5" y="533.1" width="3" height="9.7" fill="#fff" stroke="#1a9b81" stroke-width="1"/>
<rect x="61.5" y="531" width="3" height="11.8" fill="#fff" stroke="#1a9b81" stroke-width="1"/>
<rect x="67.5" y="524.8" width="3" height="18" fill="#fff" stroke="#1a9b81" stroke-width="1"/>
<rect x="73.5" y="523.1" width="3" height="19.7" fill="#fff" stroke="#1a9b81" stroke-width="1"/>
<rect x="79.5" y="520.9" width="3" height="21.9" fill="#fff" stroke="#1a9b81" stroke-width="1"/>
<rect x="85.5" y="520.9" width="3" height="21.9" fill="#fff" stroke="#1a9b81" stroke-width="1"/>
<rect x="91" y="522.1" width="4" height="21.2" fill="#1a9b81"/>
<rect x="97" y="523.1" width="4" height="20.2" fill="#1a9b81"/>
<rect x="103" y="526" width="4" height="17.3" fill="#1a9b81"/>
<rect x="109" y="527.1" width="4" height="16.2" fill="#1a9b81"/>
<rect x="115.5" y="527" width="3" height="15.8" fill="#fff" stroke="#1a9b81" stroke-width="1"/>
<rect x="121" y="528.1" width="4" height="15.2" fill="#1a9b81"/>
<rect x="127" y="533.1" width="4" height="10.2" fill="#1a9b81"/>
<rect x="133" y="536" width="4" height="7.3" fill="#1a9b81"/>
<rect x="139" y="537.2" width="4" height="6.1" fill="#1a9b81"/>
<rect x="145.5" y="536.1" width="3" height="6.7" fill="#fff" stroke="#1a9b81" stroke-width="1"/>
<rect x="151" y="537.2" width="4" height="6.1" fill="#1a9b81"/>
<rect x="157" y="538" width="4" height="5.3" fill="#1a9b81"/>
<rect x="163" y="538.8" width="4" height="4.5" fill="#1a9b81"/>
<rect x="169" y="543.3" width="4" height="1" fill="#ea3349"/>
<rect x="175" y="543.3" width="4" height="3.5" fill="#ea3349"/>
<rect x="181" y="543.3" width="4" height="4.4" fill="#ea3349"/>
<rect x="187.5" y="543.8" width="3" height="1.7" fill="#fff" stroke="#ea3349" stroke-width="1"/>
<rect x="193" y="543.3" width="4" height="3.5" fill="#ea3349"/>
<rect x="199" y="543.3" width="4" height="7.2" fill="#ea3349"/>
<rect x="205" y="543.3" width="4" height="9.4" fill="#ea3349"/>
<rect x="211" y="543.3" width="4" height="10.2" fill="#ea3349"/>
<rect x="217.5" y="543.8" width="3" height="10.1" fill="#fff" stroke="#ea3349" stroke-width="1"/>
<rect x="223" y="543.3" width="4" height="12.2" fill="#ea3349"/>
<rect x="229" y="543.3" width="4" height="15.6" fill="#ea3349"/>
<rect x="235.5" y="543.8" width="3" height="12.9" fill="#fff" stroke="#ea3349" stroke-width="1"/>
<rect x="241.5" y="543.8" width="3" height="10.9" fill="#fff" stroke="#ea3349" stroke-width="1"/>
<rect x="247" y="543.3" width="4" height="13.6" fill="#ea3349"/>
<rect x="253.5" y="543.8" width="3" height="12.9" fill="#fff" stroke="#ea3349" stroke-width="1"/>
<rect x="259.5" y="543.8" width="3" height="10.9" fill="#fff" stroke="#ea3349" stroke-width="1"/>
<rect x="265.5" y="543.8" width="3" height="10.1" fill="#fff" stroke="#ea3349" stroke-width="1"/>
<rect x="271.5" y="543.8" width="3" height="5.9" fill="#fff" stroke="#ea3349" stroke-width="1"/>
<rect x="277.5" y="543.8" width="3" height="0.9" fill="#fff" stroke="#ea3349" stroke-width="1"/>
<rect x="283.5" y="539.8" width="3" height="3" fill="#fff" stroke="#1a9b81" stroke-width="1"/>
<rect x="289.5" y="534" width="3" height="8.8" fill="#fff" stroke="#1a9b81" stroke-width="1"/>
<rect x="295.5" y="532.3" width="3" height="10.5" fill="#fff" stroke="#1a9b81" stroke-width="1"/>
<rect x="301" y="532.1" width="4" height="11.2" fill="#1a9b81"/>
<rect x="307.5" y="529" width="3" height="13.8" fill="#fff" stroke="#1a9b81" stroke-width="1"/>
<rect x="313.5" y="524.8" width="3" height="18" fill="#fff" stroke="#1a9b81" stroke-width="1"/>
<rect x="319.5" y="519.3" width="3" height="23.5" fill="#fff" stroke="#1a9b81" stroke-width="1"/>
<rect x="325.5" y="518.1" width="3" height="24.7" fill="#fff" stroke="#1a9b81" stroke-width="1"/>
<rect x="331" y="518.8" width="4" height="24.5" fill="#1a9b81"/>
<rect x="337" y="518.8" width="4" height="24.5" fill="#1a9b81"/>
<rect x="343" y="523.8" width="4" height="19.5" fill="#1a9b81"/>
<rect x="349" y="529.8" width="4" height="13.5" fill="#1a9b81"/>
<rect x="355" y="533.8" width="4" height="9.5" fill="#1a9b81"/>
<rect x="361" y="538.8" width="4" height="4.5" fill="#1a9b81"/>
<rect x="367" y="542.2" width="4" height="1.1" fill="#1a9b81"/>
<rect x="373" y="543.3" width="4" height="4.4" fill="#ea3349"/>
<rect x="379" y="543.3" width="4" height="7.2" fill="#ea3349"/>
<rect x="385" y="543.3" width="4" height="9.4" fill="#ea3349"/>
<rect x="391" y="543.3" width="4" height="12.2" fill="#ea3349"/>
<rect x="397" y="543.3" width="4" height="12.2" fill="#ea3349"/>
<rect x="403" y="543.3" width="4" height="18.3" fill="#ea3349"/>
<rect x="409.5" y="543.8" width="3" height="17.9" fill="#fff" stroke="#ea3349" stroke-width="1"/>
<rect x="415" y="543.3" width="4" height="18.3" fill="#ea3349"/>
<rect x="421" y="543.3" width="4" height="22.3" fill="#ea3349"/>
<rect x="427" y="543.3" width="4" height="24.4" fill="#ea3349"/>
<rect x="433.5" y="543.8" width="3" height="19.6" fill="#fff" stroke="#ea3349" stroke-width="1"/>
<rect x="439.5" y="543.8" width="3" height="16.7" fill="#fff" stroke="#ea3349" stroke-width="1"/>
<rect x="445.5" y="543.8" width="3" height="12.9" fill="#fff" stroke="#ea3349" stroke-width="1"/>
<rect x="451.5" y="543.8" width="3" height="5.1" fill="#fff" stroke="#ea3349" stroke-width="1"/>
<rect x="457.5" y="543.8" width="3" height="1.2" fill="#fff" stroke="#ea3349" stroke-width="1"/>
<rect x="463" y="541.5" width="4" height="1.8" fill="#1a9b81"/>
<rect x="469.5" y="534" width="3" height="8.8" fill="#fff" stroke="#1a9b81" stroke-width="1"/>
<rect x="475.5" y="528.1" width="3" height="14.7" fill="#fff" stroke="#1a9b81" stroke-width="1"/>
<rect x="481.5" y="521.9" width="3" height="20.9" fill="#fff" stroke="#1a9b81" stroke-width="1"/>
<rect x="487.5" y="516.9" width="3" height="25.9" fill="#fff" stroke="#1a9b81" stroke-width="1"/>
<rect x="493.5" y="514.8" width="3" height="28" fill="#fff" stroke="#1a9b81" stroke-width="1"/>
<rect x="499.5" y="508.9" width="3" height="33.9" fill="#fff" stroke="#1a9b81" stroke-width="1"/>
<rect x="505.5" y="508.1" width="3" height="34.7" fill="#fff" stroke="#1a9b81" stroke-width="1"/>
<rect x="511.5" y="505.9" width="3" height="36.9" fill="#fff" stroke="#1a9b81" stroke-width="1"/>
<rect x="517" y="510.9" width="4" height="32.4" fill="#1a9b81"/>
<rect x="523" y="517.1" width="4" height="26.2" fill="#1a9b81"/>
<rect x="529" y="524.8" width="4" height="18.5" fill="#1a9b81"/>
<rect x="535" y="531" width="4" height="12.3" fill="#1a9b81"/>
<rect x="541" y="536.8" width="4" height="6.5" fill="#1a9b81"/>
<rect x="547" y="541.2" width="4" height="2.1" fill="#1a9b81"/>
<rect x="553" y="542.2" width="4" height="1.1" fill="#1a9b81"/>
<rect x="559" y="543.3" width="4" height="2.2" fill="#ea3349"/>
<rect x="565" y="543.3" width="4" height="8.2" fill="#ea3349"/>
<rect x="571" y="543.3" width="4" height="11.1" fill="#ea3349"/>
<rect x="577" y="543.3" width="4" height="15.2" fill="#ea3349"/>
<rect x="583.5" y="543.8" width="3" height="12.9" fill="#fff" stroke="#ea3349" stroke-width="1"/>
<rect x="589.5" y="543.8" width="3" height="12.2" fill="#fff" stroke="#ea3349" stroke-width="1"/>
<rect x="595.5" y="543.8" width="3" height="5.9" fill="#fff" stroke="#ea3349" stroke-width="1"/>
<rect x="601.5" y="543.8" width="3" height="5.1" fill="#fff" stroke="#ea3349" stroke-width="1"/>
<rect x="607.5" y="543.8" width="3" height="2.2" fill="#fff" stroke="#ea3349" stroke-width="1"/>
<rect x="613.5" y="539.8" width="3" height="3" fill="#fff" stroke="#1a9b81" stroke-width="1"/>
<rect x="619.5" y="534.8" width="3" height="8" fill="#fff" stroke="#1a9b81" stroke-width="1"/>
<rect x="625.5" y="532" width="3" height="10.8" fill="#fff" stroke="#1a9b81" stroke-width="1"/>
<rect x="631.5" y="527" width="3" height="15.8" fill="#fff" stroke="#1a9b81" stroke-width="1"/>
<rect x="637" y="529.8" width="4" height="13.5" fill="#1a9b81"/>
<rect x="643.5" y="529" width="3" height="13.8" fill="#fff" stroke="#1a9b81" stroke-width="1"/>
<rect x="649" y="531" width="4" height="12.3" fill="#1a9b81"/>
<rect x="655" y="533.8" width="4" height="9.5" fill="#1a9b81"/>
<rect x="661" y="541.2" width="4" height="2.1" fill="#1a9b81"/>
<rect x="667" y="543.3" width="4" height="4.4" fill="#ea3349"/>
<rect x="673" y="543.3" width="4" height="16.6" fill="#ea3349"/>
<rect x="679" y="543.3" width="4" height="23.6" fill="#ea3349"/>
<rect x="685" y="543.3" width="4" height="29.4" fill="#ea3349"/>
<rect x="691" y="543.3" width="4" height="31.6" fill="#ea3349"/>
<rect x="697" y="543.3" width="4" height="32.8" fill="#ea3349"/>
<rect x="703" y="543.3" width="4" height="32.5" fill="#ea3349"/>
<rect x="709.5" y="543.8" width="3" height="31" fill="#fff" stroke="#ea3349" stroke-width="1"/>
<rect x="715.5" y="543.8" width="3" height="27.9" fill="#fff" stroke="#ea3349" stroke-width="1"/>
<rect x="721.5" y="543.8" width="3" height="25.1" fill="#fff" stroke="#ea3349" stroke-width="1"/>
<rect x="727" y="543.3" width="4" height="25.3" fill="#ea3349"/>
<rect x="733.5" y="543.8" width="3" height="22.9" fill="#fff" stroke="#ea3349" stroke-width="1"/>
<rect x="739.5" y="543.8" width="3" height="18.9" fill="#fff" stroke="#ea3349" stroke-width="1"/>
<rect x="745.5" y="543.8" width="3" height="17.6" fill="#fff" stroke="#ea3349" stroke-width="1"/>
<rect x="751.5" y="543.8" width="3" height="16.7" fill="#fff" stroke="#ea3349" stroke-width="1"/>
<rect x="757" y="543.3" width="4" height="18.3" fill="#ea3349"/>
<rect x="763.5" y="543.8" width="3" height="13.9" fill="#fff" stroke="#ea3349" stroke-width="1"/>
<rect x="769.5" y="543.8" width="3" height="11.7" fill="#fff" stroke="#ea3349" stroke-width="1"/>
<rect x="775.5" y="543.8" width="3" height="9.2" fill="#fff" stroke="#ea3349" stroke-width="1"/>
<rect x="781.5" y="543.8" width="3" height="4.2" fill="#fff" stroke="#ea3349" stroke-width="1"/>
<rect x="787.5" y="543.8" width="3" height="2.9" fill="#fff" stroke="#ea3349" stroke-width="1"/>
<rect x="793" y="543.3" width="4" height="5.2" fill="#ea3349"/>
<rect x="799.5" y="543.8" width="3" height="3.9" fill="#fff" stroke="#ea3349" stroke-width="1"/>
<rect x="805.5" y="543.8" width="3" height="0.9" fill="#fff" stroke="#ea3349" stroke-width="1"/>
<rect x="811.5" y="539" width="3" height="3.8" fill="#fff" stroke="#1a9b81" stroke-width="1"/>
<rect x="817" y="542.3" width="4" height="1" fill="#1a9b81"/>
<rect x="823" y="541.5" width="4" height="1.8" fill="#1a9b81"/>
<path d="M4.5 564 L7.5 563.3 L10.5 562.3 L13.5 561.3 L16.5 560.3 L19.5 559.3 L22.5 558.4 L25.5 557.4 L28.5 556.5 L31.5 555.8 L34.5 555.2 L37.5 554.6 L40.5 554 L43.5 553.5 L46.5 552.9 L49.5 552.4 L52.5 551.8 L55.5 551.2 L58.5 550.4 L61.5 549.4 L64.5 548.4 L67.5 547.4 L70.5 546.2 L73.5 544.9 L76.5 543.6 L79.5 542.2 L82.5 540.7 L85.5 539.2 L88.5 537.7 L91.5 536.2 L94.5 534.7 L97.5 533.4 L100.5 532.3 L103.5 531.3 L106.5 530.3 L109.5 529.5 L112.5 528.7 L115.5 528 L118.5 527.3 L121.5 526.7 L124.5 526 L127.5 525.5 L130.5 525.1 L133.5 524.7 L136.5 524.4 L139.5 524 L142.5 523.6 L145.5 523.3 L148.5 522.9 L151.5 522.5 L154.5 522.1 L157.5 521.8 L160.5 521.4 L163.5 521.1 L166.5 521 L169.5 521 L172.5 521.3 L175.5 521.8 L178.5 522.3 L181.5 522.7 L184.5 523 L187.5 523.2 L190.5 523.4 L193.5 523.7 L196.5 524.1 L199.5 524.7 L202.5 525.4 L205.5 526.2 L208.5 527 L211.5 527.9 L214.5 528.7 L217.5 529.5 L220.5 530.3 L223.5 531 L226.5 531.8 L229.5 532.7 L232.5 533.5 L235.5 534.4 L238.5 535.3 L241.5 536.2 L244.5 537 L247.5 537.8 L250.5 538.5 L253.5 539.3 L256.5 540.1 L259.5 541 L262.5 541.8 L265.5 542.4 L268.5 542.8 L271.5 543.1 L274.5 543.4 L277.5 543.6 L280.5 543.7 L283.5 543.6 L286.5 543.5 L289.5 543.2 L292.5 542.8 L295.5 542.3 L298.5 541.6 L301.5 540.5 L304.5 539.4 L307.5 538.2 L310.5 536.8 L313.5 535.3 L316.5 533.8 L319.5 532.3 L322.5 530.8 L325.5 529.3 L328.5 527.8 L331.5 526.3 L334.5 524.8 L337.5 523.6 L340.5 522.6 L343.5 521.6 L346.5 520.8 L349.5 520.1 L352.5 519.5 L355.5 518.7 L358.5 518.1 L361.5 517.7 L364.5 517.6 L367.5 517.6 L370.5 517.8 L373.5 518.2 L376.5 518.7 L379.5 519.2 L382.5 519.9 L385.5 520.6 L388.5 521.4 L391.5 522.3 L394.5 523.3 L397.5 524.3 L400.5 525.3 L403.5 526.5 L406.5 527.8 L409.5 529 L412.5 530.3 L415.5 531.7 L418.5 533 L421.5 534.4 L424.5 535.8 L427.5 537.2 L430.5 538.6 L433.5 540 L436.5 541.2 L439.5 542.2 L442.5 542.8 L445.5 543.3 L448.5 543.9 L451.5 544.6 L454.5 545.1 L457.5 545.2 L460.5 545.2 L463.5 545.1 L466.5 544.8 L469.5 544.3 L472.5 543.6 L475.5 542.6 L478.5 541.3 L481.5 539.7 L484.5 538.1 L487.5 536.6 L490.5 534.9 L493.5 532.8 L496.5 530.6 L499.5 528.6 L502.5 526.7 L505.5 524.9 L508.5 523 L511.5 521.1 L514.5 519.2 L517.5 517.5 L520.5 515.9 L523.5 514.5 L526.5 513 L529.5 511.8 L532.5 510.7 L535.5 509.9 L538.5 509.2 L541.5 508.6 L544.5 508.2 L547.5 507.9 L550.5 507.7 L553.5 507.8 L556.5 507.9 L559.5 508.2 L562.5 508.6 L565.5 509.2 L568.5 509.8 L571.5 510.6 L574.5 511.6 L577.5 512.5 L580.5 513.4 L583.5 514.2 L586.5 515 L589.5 515.7 L592.5 516.4 L595.5 517.1 L598.5 517.7 L601.5 518.1 L604.5 518.4 L607.5 518.6 L610.5 518.6 L613.5 518.4 L616.5 518 L619.5 517.6 L622.5 516.9 L625.5 516.1 L628.5 515.3 L631.5 514.5 L634.5 513.7 L637.5 512.9 L640.5 512.1 L643.5 511.3 L646.5 510.6 L649.5 509.9 L652.5 509.4 L655.5 508.9 L658.5 508.4 L661.5 508 L664.5 507.8 L667.5 507.9 L670.5 508.4 L673.5 509.3 L676.5 510.6 L679.5 512.2 L682.5 513.9 L685.5 515.8 L688.5 517.9 L691.5 520.1 L694.5 522.3 L697.5 524.1 L700.5 525.5 L703.5 527.2 L706.5 529.3 L709.5 531.4 L712.5 533.5 L715.5 535.4 L718.5 537.4 L721.5 539.3 L724.5 541.1 L727.5 542.8 L730.5 544.5 L733.5 546 L736.5 547.6 L739.5 549 L742.5 550.4 L745.5 551.6 L748.5 552.8 L751.5 553.9 L754.5 555 L757.5 556 L760.5 557 L763.5 557.9 L766.5 558.8 L769.5 559.6 L772.5 560.3 L775.5 560.8 L778.5 561.3 L781.5 561.6 L784.5 561.9 L787.5 562 L790.5 562.3 L793.5 562.8 L796.5 563.3 L799.5 563.7 L802.5 564 L805.5 564.2 L808.5 564.3 L811.5 564.4 L814.5 564.4 L817.5 564.3 L820.5 564.2 L823.5 564" fill="none" stroke="#a872c9" stroke-width="1.0" stroke-linejoin="round"/>
<path d="M4.5 558.1 L7.5 557.2 L10.5 556 L13.5 554.8 L16.5 553.6 L19.5 552.6 L22.5 551.7 L25.5 550.8 L28.5 550 L31.5 549.4 L34.5 549.1 L37.5 548.9 L40.5 548.7 L43.5 548.4 L46.5 547.9 L49.5 547.4 L52.5 546.8 L55.5 546.1 L58.5 545 L61.5 543.6 L64.5 542.1 L67.5 540.3 L70.5 538.3 L73.5 536 L76.5 533.9 L79.5 532 L82.5 530.2 L85.5 528.5 L88.5 527.2 L91.5 526.1 L94.5 525.1 L97.5 524.5 L100.5 524.3 L103.5 524.3 L106.5 524 L109.5 523.2 L112.5 522 L115.5 520.8 L118.5 520 L121.5 519.6 L124.5 519.7 L127.5 520.2 L130.5 520.7 L133.5 520.9 L136.5 520.9 L139.5 520.8 L142.5 520.3 L145.5 519.8 L148.5 519.4 L151.5 519.3 L154.5 519.3 L157.5 519.3 L160.5 519.4 L163.5 519.6 L166.5 520.2 L169.5 521.1 L172.5 522 L175.5 522.7 L178.5 523.4 L181.5 523.9 L184.5 524.2 L187.5 524.4 L190.5 524.7 L193.5 525.1 L196.5 526 L199.5 527.3 L202.5 528.8 L205.5 530 L208.5 531 L211.5 532 L214.5 533 L217.5 534 L220.5 535 L223.5 536.1 L226.5 537.5 L229.5 539 L232.5 540.3 L235.5 541.3 L238.5 541.9 L241.5 542.4 L244.5 543 L247.5 543.8 L250.5 544.6 L253.5 545.4 L256.5 546.1 L259.5 546.8 L262.5 547.4 L265.5 547.6 L268.5 547.7 L271.5 547.5 L274.5 546.7 L277.5 545.6 L280.5 544.4 L283.5 543.2 L286.5 542 L289.5 540.8 L292.5 539.5 L295.5 538.2 L298.5 536.7 L301.5 535 L304.5 533.3 L307.5 531.3 L310.5 529.2 L313.5 527 L316.5 524.8 L319.5 522.7 L322.5 520.7 L325.5 518.7 L328.5 516.8 L331.5 514.9 L334.5 513.3 L337.5 512 L340.5 511.2 L343.5 511.1 L346.5 511.6 L349.5 512.4 L352.5 513.2 L355.5 514 L358.5 514.7 L361.5 515.5 L364.5 516.2 L367.5 517 L370.5 518 L373.5 519.3 L376.5 520.8 L379.5 522.3 L382.5 523.8 L385.5 525.3 L388.5 526.8 L391.5 528.1 L394.5 529.4 L397.5 530.7 L400.5 532.5 L403.5 534.5 L406.5 536.5 L409.5 538.1 L412.5 539.6 L415.5 541.2 L418.5 542.7 L421.5 544.2 L424.5 546.1 L427.5 548.1 L430.5 549.9 L433.5 550.8 L436.5 551.3 L439.5 551.3 L442.5 551.2 L445.5 550.9 L448.5 550.1 L451.5 548.8 L454.5 547.5 L457.5 546.4 L460.5 545.4 L463.5 544.3 L466.5 543.2 L469.5 541.8 L472.5 539.5 L475.5 536.7 L478.5 533.9 L481.5 531.2 L484.5 528.6 L487.5 526 L490.5 523.3 L493.5 520.7 L496.5 518 L499.5 515.1 L502.5 512.2 L505.5 509.4 L508.5 506.8 L511.5 504.3 L514.5 502.1 L517.5 500.4 L520.5 499.6 L523.5 499.4 L526.5 499.8 L529.5 500.7 L532.5 501.7 L535.5 502.7 L538.5 503.7 L541.5 504.6 L544.5 505.5 L547.5 506.4 L550.5 507.2 L553.5 508.1 L556.5 509 L559.5 510.1 L562.5 511.5 L565.5 513.2 L568.5 515 L571.5 516.7 L574.5 518.3 L577.5 519.9 L580.5 521.1 L583.5 521.6 L586.5 521.8 L589.5 521.9 L592.5 521.8 L595.5 521.5 L598.5 521.1 L601.5 520.7 L604.5 520.3 L607.5 519.6 L610.5 518.3 L613.5 516.8 L616.5 515.3 L619.5 513.9 L622.5 512.3 L625.5 510.8 L628.5 509.2 L631.5 507.6 L634.5 506.5 L637.5 505.8 L640.5 505.2 L643.5 504.3 L646.5 503.5 L649.5 503.1 L652.5 503.1 L655.5 503.3 L658.5 504.1 L661.5 505.6 L664.5 507.8 L667.5 510.5 L670.5 513.8 L673.5 517.7 L676.5 521.6 L679.5 525.3 L682.5 528.6 L685.5 531.6 L688.5 534.3 L691.5 536.9 L694.5 539.5 L697.5 541.8 L700.5 543.7 L703.5 545.2 L706.5 546.7 L709.5 548.2 L712.5 549.8 L715.5 551.2 L718.5 552.6 L721.5 553.9 L724.5 555.1 L727.5 556.3 L730.5 557.4 L733.5 558.4 L736.5 559.3 L739.5 560 L742.5 560.7 L745.5 561.3 L748.5 561.9 L751.5 562.4 L754.5 563.4 L757.5 564.7 L760.5 565.8 L763.5 566.3 L766.5 566.4 L769.5 566.5 L772.5 566.4 L775.5 566.1 L778.5 565.6 L781.5 565 L784.5 564.5 L787.5 564.4 L790.5 564.6 L793.5 565.2 L796.5 565.9 L799.5 566.5 L802.5 566.6 L805.5 566 L808.5 564.8 L811.5 563.4 L814.5 563 L817.5 563.4 L820.5 563.7 L823.5 563.8" fill="none" stroke="#eda83f" stroke-width="1.0" stroke-linejoin="round"/>
<text x="1062.1" y="134.9" font-size="11.1" fill="#222" >1.34000</text>
<text x="1062.1" y="201.9" font-size="11.1" fill="#222" >1.32000</text>
<text x="1062.1" y="267.9" font-size="11.1" fill="#222" >1.30000</text>
<text x="1062.1" y="334.9" font-size="11.1" fill="#222" >1.28000</text>
<text x="1062.1" y="401.9" font-size="11.1" fill="#222" >1.26000</text>
<text x="1062.1" y="467.9" font-size="11.1" fill="#222" >1.24000</text>
<text x="1062.1" y="520.9" font-size="11.1" fill="#222" >0.0060</text>
<text x="1062.1" y="545.9" font-size="11.1" fill="#222" >0.0000</text>
<text x="1058.4" y="570.9" font-size="11.1" fill="#222" >-0.0060</text>
<text x="92.8" y="599.9" font-size="11" fill="#222" text-anchor="middle" >2024-05</text>
<text x="212.8" y="599.9" font-size="11" fill="#222" text-anchor="middle" >2024-06</text>
<text x="332.8" y="599.9" font-size="11" fill="#222" text-anchor="middle" >2024-07</text>
<text x="452.8" y="599.9" font-size="11" fill="#222" text-anchor="middle" >2024-08</text>
<text x="572.8" y="599.9" font-size="11" fill="#222" text-anchor="middle" >2024-09</text>
<text x="692.8" y="599.9" font-size="11" fill="#222" text-anchor="middle" >2024-10</text>
<text x="812.8" y="599.9" font-size="11" fill="#222" text-anchor="middle" >2024-11</text>
<text x="11.2" y="47.7" font-size="11" fill="#8a8a8a" font-family="Liberation Sans, Noto Sans CJK SC, sans-serif">开</text>
<text x="23.6" y="48.1" font-size="11.3" fill="#8a8a8a" >:</text>
<text x="33.5" y="48.1" font-size="11.3" fill="#c2505a" >1.28687</text>
<text x="86.7" y="47.7" font-size="11" fill="#8a8a8a" font-family="Liberation Sans, Noto Sans CJK SC, sans-serif">高</text>
<text x="99.1" y="48.1" font-size="11.3" fill="#8a8a8a" >:</text>
<text x="108.7" y="48.1" font-size="11.3" fill="#3d8b7a" >1.29469</text>
<text x="162.3" y="47.7" font-size="11" fill="#8a8a8a" font-family="Liberation Sans, Noto Sans CJK SC, sans-serif">低</text>
<text x="174.7" y="48.1" font-size="11.3" fill="#8a8a8a" >:</text>
<text x="184" y="48.1" font-size="11.3" fill="#c2505a" >1.28679</text>
<text x="237.3" y="47.7" font-size="11" fill="#8a8a8a" font-family="Liberation Sans, Noto Sans CJK SC, sans-serif">收</text>
<text x="249.7" y="48.1" font-size="11.3" fill="#8a8a8a" >:</text>
<text x="259.7" y="48.1" font-size="11.3" fill="#3d8b7a" >1.29294</text>
<text x="313" y="47.7" font-size="11" fill="#8a8a8a" font-family="Liberation Sans, Noto Sans CJK SC, sans-serif">时间</text>
<text x="336.4" y="48.1" font-size="11.3" fill="#8a8a8a" >:</text>
<text x="345.7" y="48.1" font-size="11.9" fill="#222" >2024-11-07 06:00</text>
<text x="12.2" y="69" font-size="10" fill="#333" >MA(5,10,30,60)</text>
<text x="97" y="69" font-size="10" fill="#eda83f" >MA5: 1.29451</text>
<text x="175.3" y="69" font-size="10" fill="#a872c9" >MA10: 1.29532</text>
<text x="259.3" y="69" font-size="10" fill="#4a97d8" >MA30: 1.30497</text>
<text x="343.4" y="69" font-size="10" fill="#d5457e" >MA60: 1.31098</text>
<text x="12.2" y="498.1" font-size="10" fill="#333" >MACD(12,26,9)</text>
<text x="97" y="498.1" font-size="10" fill="#eda83f" >DIF: -0.0049</text>
<text x="169.5" y="498.1" font-size="10" fill="#a872c9" >DEA: -0.0050</text>
<text x="245.3" y="498.1" font-size="10" fill="#2a9a86" >MACD: 0.0001</text>
<defs><filter id="sh" x="-10%" y="-20%" width="120%" height="150%"><feGaussianBlur in="SourceAlpha" stdDeviation="2.2"/><feOffset dy="2"/><feComponentTransfer><feFuncA type="linear" slope="0.28"/></feComponentTransfer><feMerge><feMergeNode/><feMergeNode in="SourceGraphic"/></feMerge></filter></defs>
<rect x="822.3" y="59.3" width="277.7" height="55.3" rx="3" fill="#f5f5f5" filter="url(#sh)"/>
<circle cx="832.5" cy="81.2" r="1" fill="#fdfdfd"/>
<circle cx="832.5" cy="86.2" r="1" fill="#fdfdfd"/>
<circle cx="832.5" cy="91.2" r="1" fill="#fdfdfd"/>
<circle cx="837.3" cy="81.2" r="1" fill="#fdfdfd"/>
<circle cx="837.3" cy="86.2" r="1" fill="#fdfdfd"/>
<circle cx="837.3" cy="91.2" r="1" fill="#fdfdfd"/>
<path d="M849 69.3H960.5a3 3 0 0 1 2.7 4.2L953.6 102a4 4 0 0 1-3.6 2.4H849a4.2 4.2 0 0 1-4.2-4.2V73.5a4.2 4.2 0 0 1 4.2-4.2z" fill="#f0384c"/>
<path d="M1080.8 104.4H969.3a3 3 0 0 1-2.7-4.2L976.2 71.7a4 4 0 0 1 3.6-2.4h101a4.2 4.2 0 0 1 4.2 4.2v26.7a4.2 4.2 0 0 1-4.2 4.2z" fill="#0f9b82"/>
<text x="868.6" y="91.8" font-size="12.4" font-weight="bold" fill="#fff" font-family="Liberation Sans, Noto Sans CJK SC, sans-serif">卖出</text>
<text x="896.9" y="91.7" font-size="12.4" fill="#fff" font-weight="bold" >1.29294</text>
<text x="988.4" y="91.8" font-size="12.4" font-weight="bold" fill="#fff" font-family="Liberation Sans, Noto Sans CJK SC, sans-serif">买入</text>
<text x="1016.7" y="91.7" font-size="12.4" fill="#fff" font-weight="bold" >1.29302</text>
<rect x="475" y="613" width="40" height="24" rx="3" fill="#f2f3f5"/>
<text x="18.2" y="629.8" font-size="12" fill="#222" font-family="Liberation Sans, Noto Sans CJK SC, sans-serif">分时</text>
<text x="69.3" y="630.1" font-size="12" fill="#222" >2</text>
<text x="76" y="629.8" font-size="12" fill="#222" font-family="Liberation Sans, Noto Sans CJK SC, sans-serif">日</text>
<text x="115" y="630.1" font-size="12" fill="#222" >1</text>
<text x="121.7" y="629.8" font-size="12" fill="#222" font-family="Liberation Sans, Noto Sans CJK SC, sans-serif">分</text>
<text x="161.2" y="630.1" font-size="12" fill="#222" >5</text>
<text x="167.9" y="629.8" font-size="12" fill="#222" font-family="Liberation Sans, Noto Sans CJK SC, sans-serif">分</text>
<text x="207.6" y="630.1" font-size="12" fill="#222" >15</text>
<text x="220.9" y="629.8" font-size="12" fill="#222" font-family="Liberation Sans, Noto Sans CJK SC, sans-serif">分</text>
<text x="260.8" y="630.1" font-size="12" fill="#222" >30</text>
<text x="274.1" y="629.8" font-size="12" fill="#222" font-family="Liberation Sans, Noto Sans CJK SC, sans-serif">分</text>
<text x="312.8" y="630.1" font-size="12" fill="#222" >1</text>
<text x="319.5" y="629.8" font-size="12" fill="#222" font-family="Liberation Sans, Noto Sans CJK SC, sans-serif">小时</text>
<text x="370.3" y="630.1" font-size="12" fill="#222" >2</text>
<text x="377" y="629.8" font-size="12" fill="#222" font-family="Liberation Sans, Noto Sans CJK SC, sans-serif">小时</text>
<text x="428.3" y="630.1" font-size="12" fill="#222" >4</text>
<text x="435" y="629.8" font-size="12" fill="#222" font-family="Liberation Sans, Noto Sans CJK SC, sans-serif">小时</text>
<text x="486.3" y="629.8" font-size="12" fill="#2a6fc9" font-family="Liberation Sans, Noto Sans CJK SC, sans-serif">日</text>
<text x="498.6" y="630.1" font-size="12" fill="#2a6fc9" >K</text>
<text x="531.5" y="629.8" font-size="12" fill="#222" font-family="Liberation Sans, Noto Sans CJK SC, sans-serif">周</text>
<text x="543.8" y="630.1" font-size="12" fill="#222" >K</text>
<text x="577.8" y="629.8" font-size="12" fill="#222" font-family="Liberation Sans, Noto Sans CJK SC, sans-serif">月</text>
<text x="590.1" y="630.1" font-size="12" fill="#222" >K</text>
</svg>
</body></html>
